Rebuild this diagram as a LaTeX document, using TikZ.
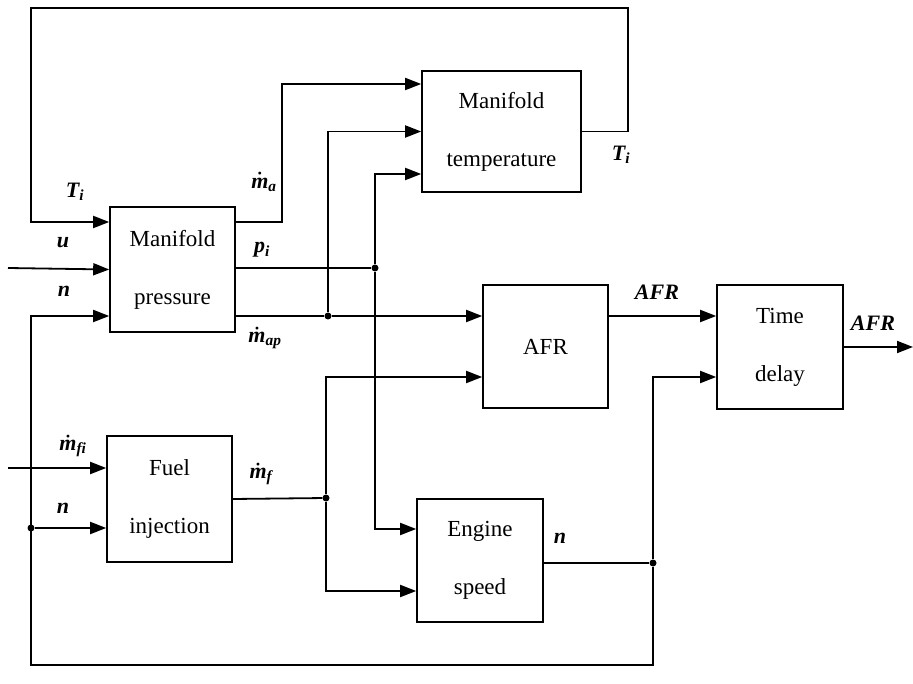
\documentclass[tikz,border=0pt]{standalone}
\usepackage{fontspec}
\setmainfont{Liberation Serif}
\usetikzlibrary{arrows.meta}
\begin{document}
\begin{tikzpicture}[x=1pt,y=-1pt,
  blk/.style={draw,line width=1.6pt,minimum width=#1,align=center,inner sep=0pt,
    font=\fontsize{23}{58}\selectfont},
  wire/.style={line width=1.8pt},
  arr/.style={wire,-{Triangle[length=16pt,width=12pt]}},
  lbl/.style={font=\fontsize{22}{24}\selectfont\bfseries\itshape\boldmath,inner sep=0pt},
  dotj/.style={circle,fill,inner sep=0pt,minimum size=7pt}]
\useasboundingbox (0,0) rectangle (913,684);
% blocks
\node[blk=125pt,minimum height=125pt] (mp) at (172.5,269.5) {Manifold\\pressure};
\node[blk=159pt,minimum height=121pt] (mt) at (501.5,131.5) {Manifold\\temperature};
\node[blk=125pt,minimum height=123pt] (afr) at (545.5,346.5) {AFR};
\node[blk=126pt,minimum height=124pt] (td) at (780,347) {Time\\delay};
\node[blk=125pt,minimum height=126pt] (fi) at (169.5,499) {Fuel\\injection};
\node[blk=126pt,minimum height=123pt] (es) at (480,560.5) {Engine\\speed};
% coordinates / junctions
\coordinate (uin) at (8,268);
\coordinate (mfiin) at (8,468);
\node[dotj] (jp) at (375,268) {};
\node[dotj] (jm) at (328,316) {};
\node[dotj] (jf) at (326,498) {};
\node[dotj] (jn) at (653,563) {};
\node[dotj] (jl) at (31,528) {};
\coordinate (out) at (913,347);
% connectors
\draw[arr] (mt.east) -- (628,131.5) -- (628,8) -- (31,8) -- (31,222) -- (mp.west |- 0,222);
\draw[arr] (uin) -- (mp.west);
\draw[arr] (mfiin) -- (fi.west |- mfiin);
\draw[arr] (mp.east |- 0,222) -- (282,222) -- (282,84) -- (mt.west |- 0,84);
\draw[wire] (mp.east |- jp) -- (jp);
\draw[arr] (jp) -- (375,174) -- (mt.west |- 0,174);
\draw[arr] (jp) -- (375,529) -- (es.west |- 0,529);
\draw[arr] (mp.east |- 0,316) -- (jm) -- (afr.west |- 0,316);
\draw[arr] (jm) -- (328,131.5) -- (mt.west);
\draw[wire] (fi.east) -- (jf);
\draw[arr] (jf) -- (326,377) -- (afr.west |- 0,377);
\draw[arr] (jf) -- (326,591) -- (es.west |- 0,591);
\draw[arr] (afr.east |- 0,316) -- (td.west |- 0,316);
\draw[arr] (td.east) -- (out);
\draw[wire] (es.east |- jn) -- (jn);
\draw[arr] (jn) -- (653,377) -- (td.west |- 0,377);
\draw[arr] (jn) -- (653,665) -- (31,665) -- (31,316) -- (mp.west |- 0,316);
\draw[arr] (jl) -- (fi.west |- jl);
% labels
\node[lbl] (l1) at (75,192) {$\mathit{T}_{\mathit{i}}$};
\node[lbl] (l2) at (63,243) {$\mathit{u}$};
\node[lbl] (l3) at (64,291) {$\mathit{n}$};
\node[lbl] (l4) at (264,182) {$\dot{\mathit{m}}_{\mathit{a}}$};
\node[lbl] (l5) at (262,250) {$\mathit{p}_{\mathit{i}}$};
\node[lbl] (l6) at (265,338) {$\dot{\mathit{m}}_{\mathit{ap}}$};
\node[lbl] (l7) at (621,155) {$\mathit{T}_{\mathit{i}}$};
\node[lbl] (l8) at (657,292) {AFR};
\node[lbl] (l9) at (873,323) {AFR};
\node[lbl] (l10) at (73,446) {$\dot{\mathit{m}}_{\mathit{fi}}$};
\node[lbl] (l11) at (63,508) {$\mathit{n}$};
\node[lbl] (l12) at (261,474) {$\dot{\mathit{m}}_{\mathit{f}}$};
\node[lbl] (l13) at (560,538) {$\mathit{n}$};
\end{tikzpicture}
\end{document}
